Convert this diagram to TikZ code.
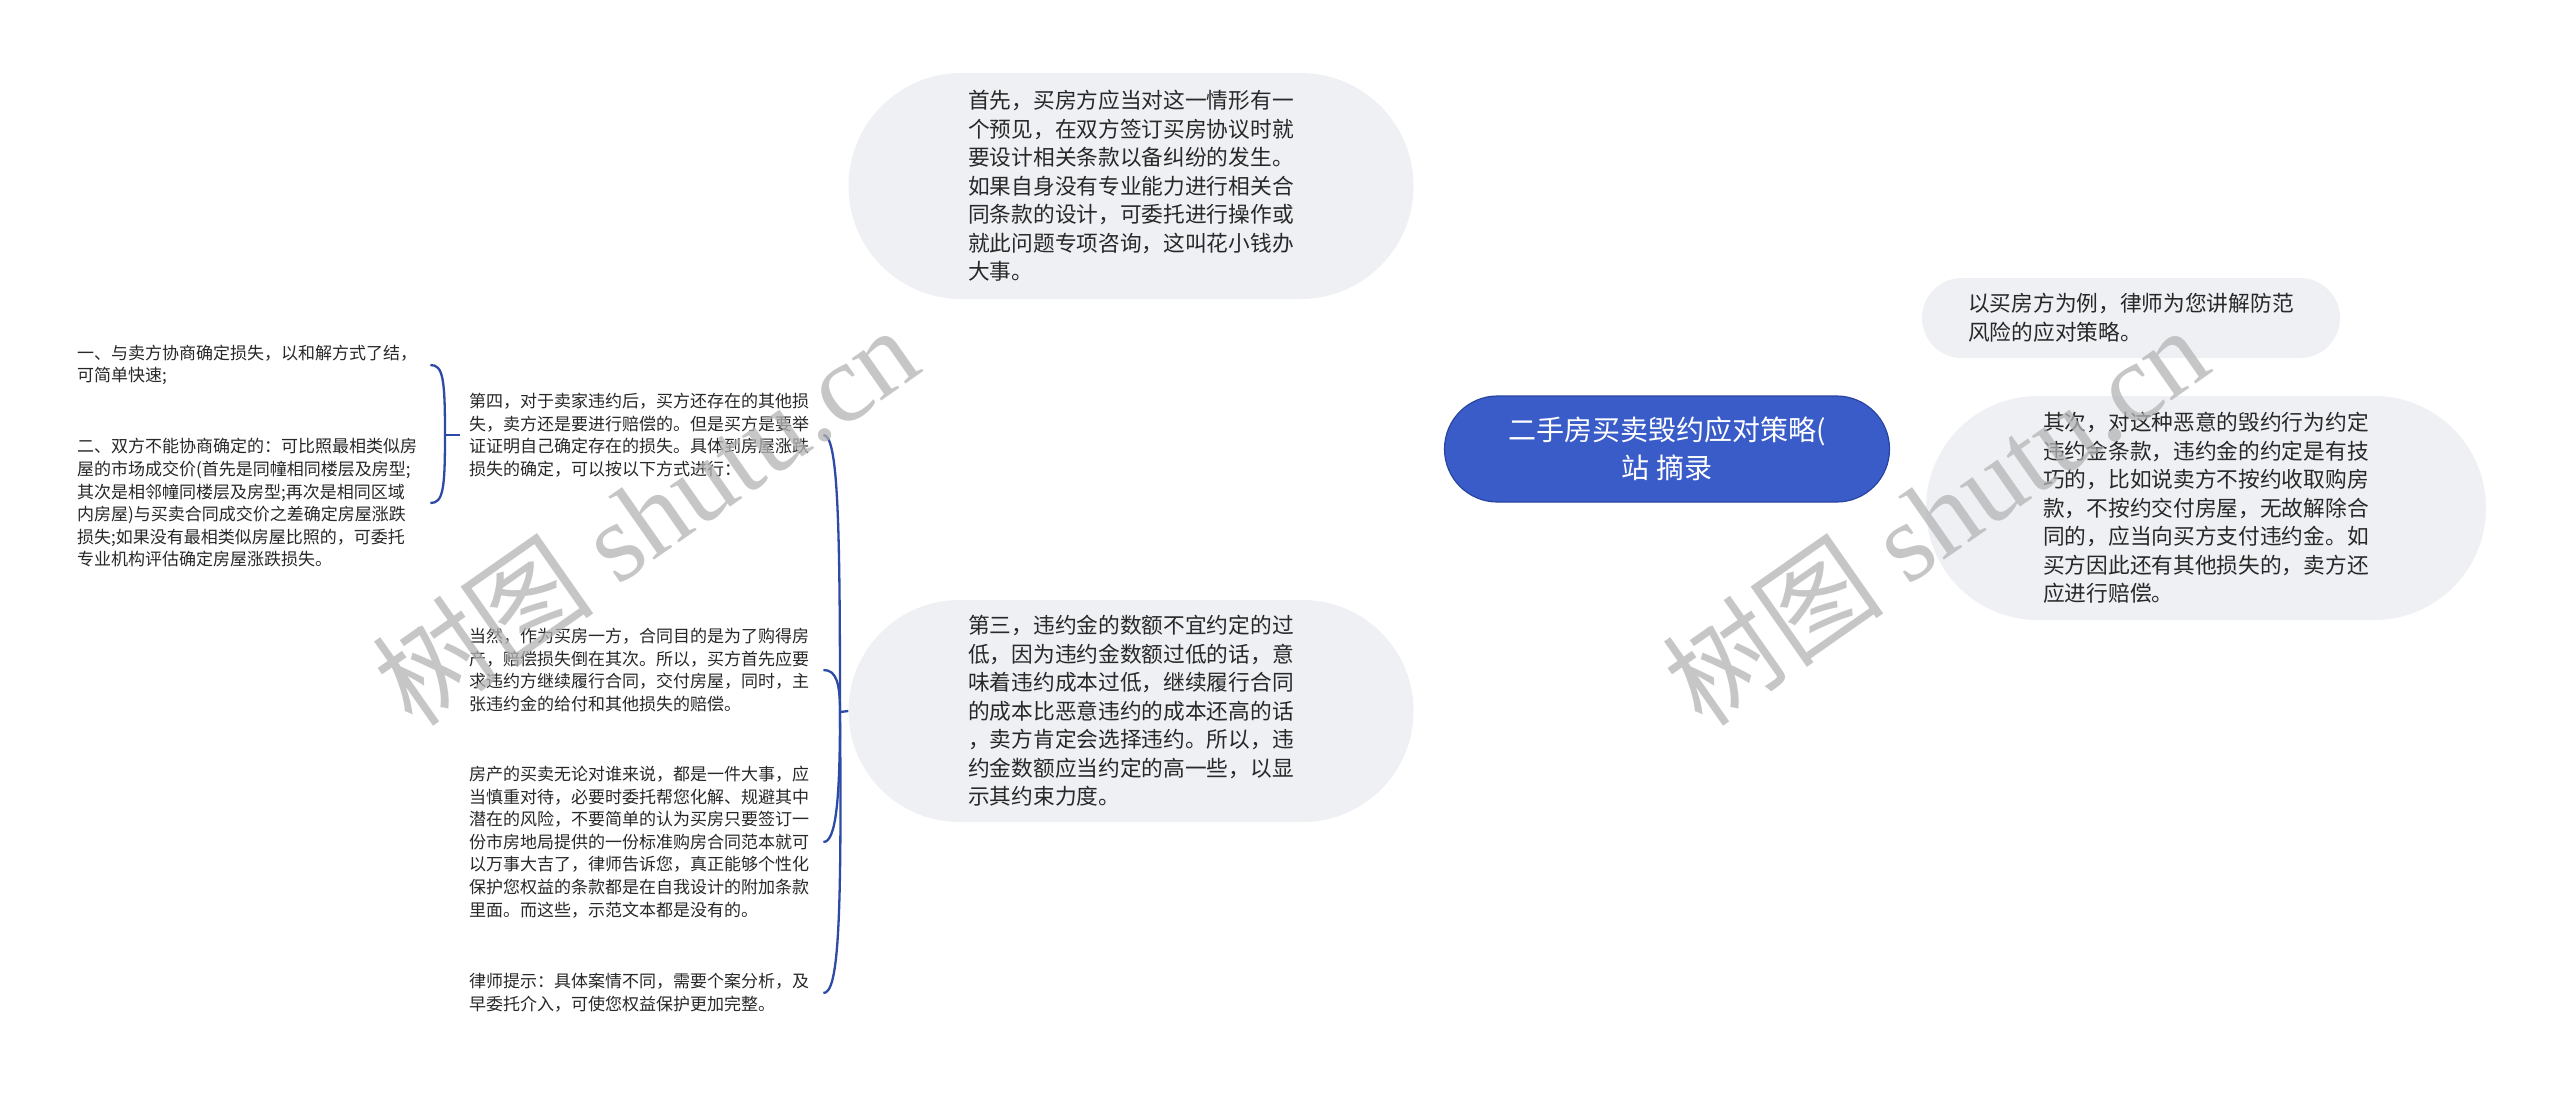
\documentclass[tikz,border=0pt]{standalone}
\usepackage{fontspec}
\newfontfamily\cjk{Noto Sans CJK SC}
\newfontfamily\wmserif{Liberation Serif}
\definecolor{linec}{RGB}{44,74,166}
\definecolor{rootfill}{RGB}{58,92,200}
\definecolor{rootdraw}{RGB}{40,68,160}
\definecolor{bubfill}{RGB}{238,240,244}
\definecolor{txt}{RGB}{40,40,40}
\definecolor{wmc}{RGB}{180,180,180}
\pgfdeclarelayer{bg}
\pgfsetlayers{bg,main}
\begin{document}
\begin{tikzpicture}[x=1pt,y=-1pt,
  conn/.style={draw=linec, line width=2.3pt},
  bub/.style={fill=bubfill, text=txt, align=left, inner sep=0pt,
    font=\cjk\fontsize{21.7}{28.5}\selectfont},
  leaf/.style={text=txt, align=left, inner sep=0pt, anchor=west,
    font=\cjk\fontsize{17}{22.6}\selectfont},
  wmark/.style={text=wmc, opacity=0.75, rotate=35, inner sep=0pt}]
\useasboundingbox[fill=white] (0,0) rectangle (2560,1096);

% root
\node[fill=rootfill, draw=rootdraw, line width=1.2pt, text=white, align=center,
  minimum width=445pt, minimum height=106pt, rounded corners=53pt, inner sep=0pt,
  font=\cjk\fontsize{28}{38}\selectfont] (root) at (1667,449)
  {二手房买卖毁约应对策略(\\站 摘录};

% main bubbles
\node[bub, minimum width=565pt, minimum height=226pt, rounded corners=113pt] (top) at (1131,186)
{首先，买房方应当对这一情形有一\\
个预见，在双方签订买房协议时就\\
要设计相关条款以备纠纷的发生。\\
如果自身没有专业能力进行相关合\\
同条款的设计，可委托进行操作或\\
就此问题专项咨询，这叫花小钱办\\
大事。};

\node[bub, minimum width=565pt, minimum height=222pt, rounded corners=111pt] (san) at (1131,711)
{第三，违约金的数额不宜约定的过\\
低，因为违约金数额过低的话，意\\
味着违约成本过低，继续履行合同\\
的成本比恶意违约的成本还高的话\\
，卖方肯定会选择违约。所以，违\\
约金数额应当约定的高一些，以显\\
示其约束力度。};

\node[bub, minimum width=418pt, minimum height=80pt, rounded corners=40pt] (rt) at (2131,318)
{以买房方为例，律师为您讲解防范\\
风险的应对策略。};

\node[bub, minimum width=560pt, minimum height=224pt, rounded corners=112pt] (rb) at (2206,508)
{其次，对这种恶意的毁约行为约定\\
违约金条款，违约金的约定是有技\\
巧的，比如说卖方不按约收取购房\\
款，不按约交付房屋，无故解除合\\
同的，应当向买方支付违约金。如\\
买方因此还有其他损失的，卖方还\\
应进行赔偿。};

% left leaves
\node[leaf] (si) at (469,435)
{第四，对于卖家违约后，买方还存在的其他损\\
失，卖方还是要进行赔偿的。但是买方是要举\\
证证明自己确定存在的损失。具体到房屋涨跌\\
损失的确定，可以按以下方式进行：};

\node[leaf] (yi) at (77,365)
{一、与卖方协商确定损失，以和解方式了结，\\
可简单快速;};

\node[leaf] (er) at (77,503)
{二、双方不能协商确定的：可比照最相类似房\\
屋的市场成交价(首先是同幢相同楼层及房型;\\
其次是相邻幢同楼层及房型;再次是相同区域\\
内房屋)与买卖合同成交价之差确定房屋涨跌\\
损失;如果没有最相类似房屋比照的，可委托\\
专业机构评估确定房屋涨跌损失。};

\node[leaf] (dr) at (469,670)
{当然，作为买房一方，合同目的是为了购得房\\
产，赔偿损失倒在其次。所以，买方首先应要\\
求违约方继续履行合同，交付房屋，同时，主\\
张违约金的给付和其他损失的赔偿。};

\node[leaf] (fc) at (469,842)
{房产的买卖无论对谁来说，都是一件大事，应\\
当慎重对待，必要时委托帮您化解、规避其中\\
潜在的风险，不要简单的认为买房只要签订一\\
份市房地局提供的一份标准购房合同范本就可\\
以万事大吉了，律师告诉您，真正能够个性化\\
保护您权益的条款都是在自我设计的附加条款\\
里面。而这些，示范文本都是没有的。};

\node[leaf] (ls) at (469,993)
{律师提示：具体案情不同，需要个案分析，及\\
早委托介入，可使您权益保护更加完整。};

\coordinate (j) at (840,712);
\coordinate (k) at (445,435);

\begin{pgfonlayer}{bg}
\draw[conn] (root.center) .. controls (1664,230) and (1570,186) .. (top.east);
\draw[conn] (root.center) .. controls (1664,660) and (1570,711) .. (san.east);
\draw[conn] (root.center) .. controls (1685,340) and (1760,318) .. (rt.west);
\draw[conn] (root.center) .. controls (1720,505) and (1800,508) .. (rb.west);
\end{pgfonlayer}

% left bracket
\draw[conn] (san.west) -- (j);
\draw[conn] (j) .. controls (840,520) and (838,435) .. ([xshift=14pt]si.east);
\draw[conn] (j) .. controls (840,682) and (836,670) .. ([xshift=14pt]dr.east);
\draw[conn] (j) .. controls (840,800) and (836,842) .. ([xshift=14pt]fc.east);
\draw[conn] (j) .. controls (842,930) and (838,993) .. ([xshift=14pt]ls.east);

% small bracket
\draw[conn] ([xshift=-9pt]si.west) -- (k);
\draw[conn] (k) .. controls (445,378) and (443,365) .. ([xshift=13pt]yi.east);
\draw[conn] (k) .. controls (445,490) and (443,503) .. ([xshift=13pt]er.east);

% watermarks
\node[wmark] (wm1) at (645,515) {\cjk\fontsize{112}{112}\selectfont 树图 \wmserif shutu.cn};
\node[wmark] (wm2) at (1935,515) {\cjk\fontsize{112}{112}\selectfont 树图 \wmserif shutu.cn};
\end{tikzpicture}
\end{document}
